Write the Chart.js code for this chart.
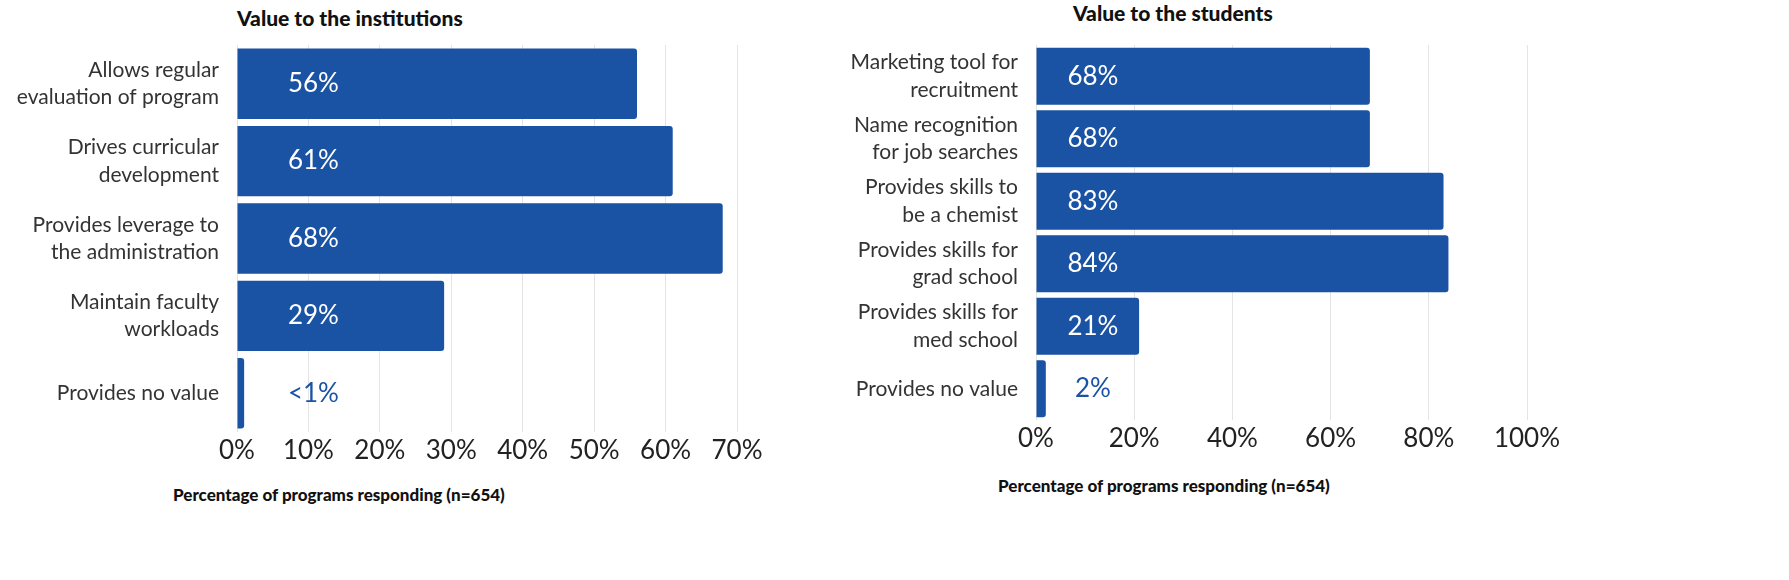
<!DOCTYPE html>
<html><head><meta charset="utf-8">
<script src="https://cdn.jsdelivr.net/npm/chart.js@4"></script>
<style>
body{margin:0;background:#fff;font-family:Lato,sans-serif;width:1789px;height:580px;position:relative;overflow:hidden}
.c{position:absolute}
.t{position:absolute;font-weight:900;color:#111;white-space:nowrap}
</style></head><body>
<div class="t" style="left:237px;top:5px;font-size:21px">Value to the institutions</div>
<div class="t" style="left:1073px;top:0px;font-size:21px">Value to the students</div>
<div class="t" style="left:173px;top:484px;font-size:17px">Percentage of programs responding (n=654)</div>
<div class="t" style="left:998px;top:475px;font-size:17px">Percentage of programs responding (n=654)</div>
<div class="c" style="left:0;top:0;width:790px;height:475px"><canvas id="left"></canvas></div>
<div class="c" style="left:800px;top:0;width:780px;height:460px"><canvas id="right"></canvas></div>
<script>
// datos del grafico izquierdo
const instCategories = [
  ["Allows regular", "evaluation of program"],
  ["Drives curricular", "development"],
  ["Provides leverage to", "the administration"],
  ["Maintain faculty", "workloads"],
  "Provides no value"
];
const instValues = [56, 61, 68, 29, 1];
const instLabels = ["56%", "61%", "68%", "29%", "<1%"];

// datos del grafico derecho
const studCategories = [
  ["Marketing tool for", "recruitment"],
  ["Name recognition", "for job searches"],
  ["Provides skills to", "be a chemist"],
  ["Provides skills for", "grad school"],
  ["Provides skills for", "med school"],
  "Provides no value"
];
const studValues = [68, 68, 83, 84, 21, 2];
const studLabels = ["68%", "68%", "83%", "84%", "21%", "2%"];

const BLUE = "#1a53a4";

const valueLabels = {
  id: "valueLabels",
  afterDatasetsDraw(chart, args, opts) {
    const ctx = chart.ctx;
    const meta = chart.getDatasetMeta(0);
    const x = chart.scales.x.getPixelForValue(opts.at);
    ctx.save();
    ctx.font = "26px Lato, sans-serif";
    ctx.textAlign = "center";
    ctx.textBaseline = "middle";
    meta.data.forEach((bar, i) => {
      ctx.fillStyle = chart.data.datasets[0].data[i] > 5 ? "#fff" : BLUE;
      ctx.fillText(opts.labels[i], x, bar.y);
    });
    ctx.restore();
  }
};

function makeChart(id, cats, vals, labels, max, step, yWidth, xHeight, padRight, labelAt) {
  new Chart(document.getElementById(id), {
    type: "bar",
    data: {
      labels: cats,
      datasets: [{ data: vals, backgroundColor: BLUE, borderRadius: 3,
        barPercentage: 1, categoryPercentage: 0.91 }]
    },
    options: {
      indexAxis: "y",
      responsive: true, maintainAspectRatio: false, animation: false,
      layout: { padding: { top: 45, right: padRight, left: 0, bottom: 0 } },
      plugins: { legend: { display: false }, tooltip: { enabled: false },
        valueLabels: { labels: labels, at: labelAt } },
      scales: {
        x: {
          min: 0, max: max,
          ticks: { stepSize: step, color: "#222", font: { size: 26, family: "Lato" },
            callback: v => v + "%" },
          grid: { color: "#e4e4e4", drawTicks: false },
          border: { display: false },
          afterFit: s => { s.height = xHeight; }
        },
        y: {
          ticks: { color: "#333", font: { size: 21, family: "Lato", lineHeight: 1.3 }, padding: 10 },
          grid: { display: false },
          border: { display: false },
          afterFit: s => { s.width = yWidth; }
        }
      }
    },
    plugins: [valueLabels]
  });
}

makeChart("left", instCategories, instValues, instLabels, 70, 10, 237, 43, 53, 10.7);
makeChart("right", studCategories, studValues, studLabels, 100, 20, 236, 40, 53, 11.6);
</script>
</body></html>
